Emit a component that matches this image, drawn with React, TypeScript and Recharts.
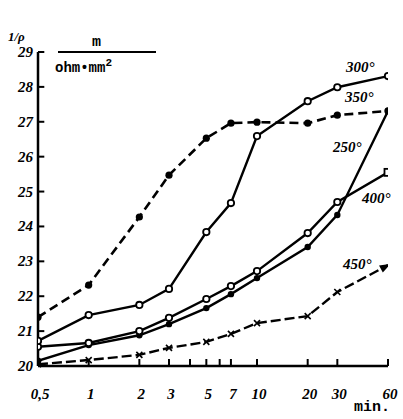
import { LineChart, Line, XAxis, YAxis, ReferenceLine } from "recharts";

// time after start, minutes (log axis)
const minutes = [0.5, 1, 2, 3, 5, 7, 10, 20, 30, 60];

// conductivity, m/(ohm*mm^2), one list per annealing temperature
const t250 = [20.15, 20.6, 20.88, 21.2, 21.66, 22.06, 22.52, 23.41, 24.33, 27.31];
const t300 = [20.72, 21.46, 21.75, 22.21, 23.84, 24.67, 26.59, 27.59, 27.99, 28.31];
const t350 = [21.4, 22.32, 24.27, 25.47, 26.53, 26.96, 26.99, 26.96, 27.19, 27.31];
const t400 = [20.55, 20.66, 21.0, 21.38, 21.92, 22.29, 22.72, 23.81, 24.7, 25.55];
const t450 = [20.05, 20.17, 20.32, 20.52, 20.69, 20.92, 21.23, 21.43, 22.12, 22.89];

const xTicks = [0.5, 1, 2, 3, 4, 5, 6, 7, 10, 20, 30, 60];
const xLabels: Record<number, string> = {
  0.5: "0,5", 1: "1", 2: "2", 3: "3", 5: "5", 7: "7", 10: "10", 20: "20", 30: "30", 60: "60",
};
const yTicks = [20, 21, 22, 23, 24, 25, 26, 27, 28, 29];

const data = minutes.map((m, i) => ({
  m,
  t250: t250[i],
  t300: t300[i],
  t350: t350[i],
  t400: t400[i],
  t450: t450[i],
}));

const TICK_FONT = {
  fontFamily: "'Liberation Serif', serif",
  fontWeight: 700,
  fontStyle: "italic",
  fontSize: 15,
  fill: "#000",
};

const YTick = (props: any) => {
  const { y, payload } = props;
  return (
    <text x={33} y={y + 5} textAnchor="end" {...TICK_FONT}>
      {payload.value}
    </text>
  );
};

const XTick = (props: any) => {
  const { x, payload } = props;
  const label = xLabels[payload.value];
  if (!label) return <g />;
  return (
    <text x={x + 2} y={399} textAnchor="middle" {...TICK_FONT}>
      {label}
    </text>
  );
};

const openDot = (props: any) => {
  const { cx, cy, index } = props;
  return <circle key={index} cx={cx} cy={cy} r={3.2} fill="#fff" stroke="#000" strokeWidth={1.8} />;
};

const filledDot = (r: number) => (props: any) => {
  const { cx, cy, index } = props;
  return <circle key={index} cx={cx} cy={cy} r={r} fill="#000" />;
};

const dot400 = (props: any) => {
  const { cx, cy, index } = props;
  if (index === minutes.length - 1) {
    return <rect key={index} x={cx - 3.5} y={cy - 3.5} width={7} height={7} fill="#fff" stroke="#000" strokeWidth={1.8} />;
  }
  return openDot(props);
};

const dot450 = (props: any) => {
  const { cx, cy, index } = props;
  if (index === minutes.length - 1) {
    return (
      <polygon
        key={index}
        points="-8,-4 3,0 -8,4"
        transform={`translate(${cx},${cy}) rotate(-28)`}
        fill="#000"
      />
    );
  }
  return (
    <g key={index} stroke="#000" strokeWidth={1.6}>
      <line x1={cx - 3} y1={cy - 3} x2={cx + 3} y2={cy + 3} />
      <line x1={cx - 3} y1={cy + 3} x2={cx + 3} y2={cy - 3} />
    </g>
  );
};

const labelStyle: React.CSSProperties = {
  position: "absolute",
  fontFamily: "'Liberation Serif', serif",
  fontWeight: 700,
  fontStyle: "italic",
  fontSize: 15,
  lineHeight: 1,
  color: "#000",
};

const monoStyle: React.CSSProperties = {
  position: "absolute",
  fontFamily: "'Liberation Mono', monospace",
  fontWeight: 700,
  fontSize: 14,
  lineHeight: 1,
  color: "#000",
};

export default function App() {
  return (
    <div style={{ position: "fixed", left: 0, top: 0, width: 403, height: 419, background: "#fff" }}>
      <LineChart width={403} height={419} data={data} margin={{ top: 52, right: 15, bottom: 0, left: 0 }}>
        <XAxis
          dataKey="m"
          type="number"
          scale="log"
          domain={[0.5, 60]}
          ticks={xTicks}
          interval={0}
          tick={<XTick />}
          tickLine={false}
          axisLine={{ stroke: "#000", strokeWidth: 2.5 }}
          allowDataOverflow
          height={53}
        />
        <YAxis
          type="number"
          domain={[20, 29]}
          ticks={yTicks}
          interval={0}
          tick={<YTick />}
          tickLine={false}
          axisLine={{ stroke: "#000", strokeWidth: 2.5 }}
          width={38}
        />
        {/* inward tick marks */}
        {xTicks.map((t) => (
          <ReferenceLine
            key={`xt${t}`}
            segment={[{ x: t, y: 20 }, { x: t, y: 20.2 }]}
            stroke="#000"
            strokeWidth={2}
            ifOverflow="visible"
          />
        ))}
        {yTicks.map((v) => (
          <ReferenceLine
            key={`yt${v}`}
            segment={[{ x: 0.5, y: v }, { x: 0.545, y: v }]}
            stroke="#000"
            strokeWidth={2}
            ifOverflow="visible"
          />
        ))}
        <Line dataKey="t350" stroke="#000" strokeWidth={2.6} strokeDasharray="9 5" dot={filledDot(3.6)} isAnimationActive={false} />
        <Line dataKey="t450" stroke="#000" strokeWidth={2.4} strokeDasharray="10 4" dot={dot450} isAnimationActive={false} />
        <Line dataKey="t250" stroke="#000" strokeWidth={2.4} dot={filledDot(3.2)} isAnimationActive={false} />
        <Line dataKey="t400" stroke="#000" strokeWidth={2.4} dot={dot400} isAnimationActive={false} />
        <Line dataKey="t300" stroke="#000" strokeWidth={2.4} dot={openDot} isAnimationActive={false} />
      </LineChart>

      {/* axis captions */}
      <div style={{ ...labelStyle, left: 8, top: 30, fontSize: 13 }}>1/ρ</div>
      <div style={{ ...monoStyle, left: 92, top: 35, fontSize: 15 }}>m</div>
      <div style={{ position: "absolute", left: 58, top: 51, width: 98, height: 2, background: "#000" }} />
      <div style={{ ...monoStyle, left: 55, top: 58 }}>
        ohm•mm<sup style={{ fontSize: 11 }}>2</sup>
      </div>
      <div style={{ ...monoStyle, left: 354, top: 400, fontSize: 15 }}>min.</div>

      {/* curve labels */}
      <div style={{ ...labelStyle, left: 346, top: 60 }}>300°</div>
      <div style={{ ...labelStyle, left: 345, top: 90 }}>350°</div>
      <div style={{ ...labelStyle, left: 333, top: 140 }}>250°</div>
      <div style={{ ...labelStyle, left: 362, top: 191 }}>400°</div>
      <div style={{ ...labelStyle, left: 343, top: 257 }}>450°</div>
    </div>
  );
}
